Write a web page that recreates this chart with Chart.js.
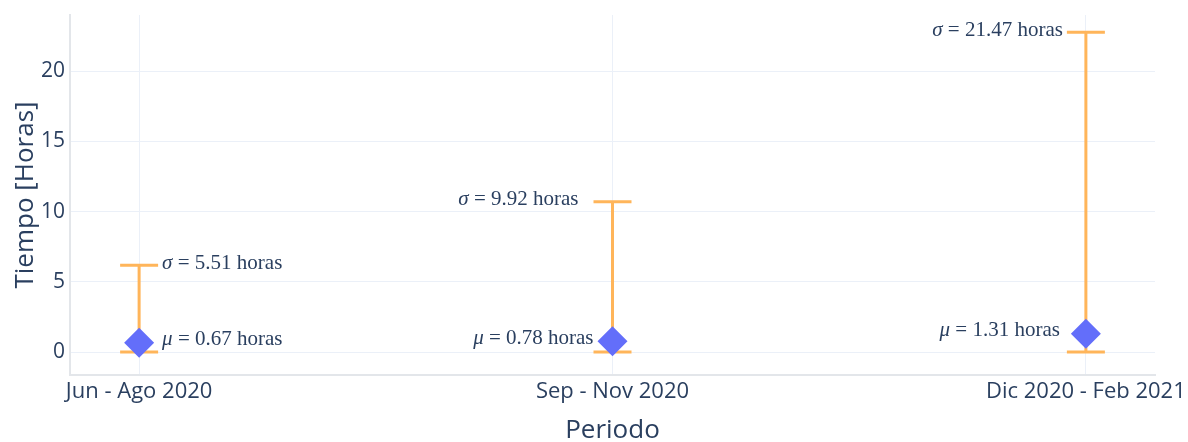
<!DOCTYPE html>
<html>
<head>
<meta charset="utf-8">
<script src="https://cdn.jsdelivr.net/npm/chart.js@4/dist/chart.umd.min.js"></script>
<style>
  html, body { margin: 0; padding: 0; background: #fff; }
  #wrap { width: 1188px; height: 442px; }
</style>
</head>
<body>
<div id="wrap"><canvas id="chartCanvas"></canvas></div>
<script>
// --- Data ---
const periods = ['Jun - Ago 2020', 'Sep - Nov 2020', 'Dic 2020 - Feb 2021'];
const means = [0.67, 0.78, 1.31];
const sigmas = [5.51, 9.92, 21.47];
const lowerBounds = [0, 0, 0];
const yTicks = [0, 5, 10, 15, 20];

// where each annotation sits relative to its bar (px from the bar centre)
// positive = text starts right of bar, negative = text ends left of bar
const sigmaOffsets = [23, -34, -23];
const muOffsets = [23, -19, -26];

const textColor = '#2a3f5f';
const gridColor = '#ebf0f8';
const barColor = '#ffb55a';
const markColor = '#636efa';
const serif = '"Liberation Serif", "DejaVu Serif", serif';
const labelSize = 21;

// Error bars go under the diamonds
const errorBars = {
    id: 'errorBars',
    beforeDatasetsDraw(chart) {
        const { ctx, scales: { x, y } } = chart;
        ctx.save();
        ctx.strokeStyle = barColor;
        ctx.lineWidth = 3;
        means.forEach((m, i) => {
            const px = x.getPixelForValue(i);
            const top = y.getPixelForValue(m + sigmas[i]);
            const bot = y.getPixelForValue(lowerBounds[i]);
            ctx.beginPath();
            ctx.moveTo(px, top); ctx.lineTo(px, bot);
            ctx.moveTo(px - 19, top); ctx.lineTo(px + 19, top);
            ctx.moveTo(px - 19, bot); ctx.lineTo(px + 19, bot);
            ctx.stroke();
        });
        ctx.restore();
    }
};

// "σ = 5.51 horas" style label: italic symbol, upright rest
function drawLabel(ctx, sym, rest, px, py, off) {
    const italic = 'italic ' + labelSize + 'px ' + serif;
    const upright = labelSize + 'px ' + serif;
    ctx.font = italic;
    const w1 = ctx.measureText(sym).width;
    ctx.font = upright;
    const w2 = ctx.measureText(rest).width;
    const start = off > 0 ? px + off : px + off - w1 - w2;
    ctx.font = italic;
    ctx.fillText(sym, start, py);
    ctx.font = upright;
    ctx.fillText(rest, start + w1, py);
}

const valueLabels = {
    id: 'valueLabels',
    afterDatasetsDraw(chart) {
        const { ctx, scales: { x, y } } = chart;
        ctx.save();
        ctx.fillStyle = textColor;
        ctx.textBaseline = 'middle';
        means.forEach((m, i) => {
            const px = x.getPixelForValue(i);
            drawLabel(ctx, '\u03c3', ' = ' + sigmas[i].toFixed(2) + ' horas',
                px, y.getPixelForValue(m + sigmas[i]) - 2, sigmaOffsets[i]);
            drawLabel(ctx, '\u03bc', ' = ' + means[i].toFixed(2) + ' horas',
                px, y.getPixelForValue(m) - 3, muOffsets[i]);
        });
        ctx.restore();
    }
};

const canvas = document.getElementById('chartCanvas');

new Chart(canvas, {
    type: 'scatter',
    data: {
        datasets: [{
            data: means.map((m, i) => ({ x: i, y: m })),
            pointStyle: 'rectRot',
            pointRadius: 15,
            pointHoverRadius: 15,
            backgroundColor: markColor,
            borderColor: markColor,
            borderWidth: 0
        }]
    },
    options: {
        responsive: true,
        maintainAspectRatio: false,
        animation: false,
        layout: { padding: { top: 13, right: 33, left: 0, bottom: 0 } },
        plugins: {
            legend: { display: false },
            tooltip: { enabled: false }
        },
        scales: {
            x: {
                type: 'linear',
                min: -0.146,
                max: 2.146,
                afterBuildTicks: (scale) => { scale.ticks = [0, 1, 2].map(v => ({ value: v })); },
                afterFit: (scale) => {
                    scale.height = 67;
                    scale.paddingLeft = 0;
                    scale.paddingRight = 0;
                },
                ticks: {
                    callback: (v) => periods[v],
                    color: textColor,
                    font: { family: 'Open Sans', size: 22 },
                    padding: 4,
                    maxRotation: 0,
                    autoSkip: false
                },
                grid: { color: gridColor, drawTicks: false },
                border: { color: '#e3e6ea', width: 2 },
                title: {
                    display: true,
                    text: 'Periodo',
                    color: textColor,
                    font: { family: 'Open Sans', size: 26 },
                    padding: { top: 0, bottom: -4 }
                }
            },
            y: {
                min: -1.63,
                max: 24.0,
                afterBuildTicks: (scale) => { scale.ticks = yTicks.map(v => ({ value: v })); },
                afterFit: (scale) => {
                    scale.width = 70;
                    scale.paddingTop = 0;
                    scale.paddingBottom = 0;
                },
                ticks: {
                    color: textColor,
                    font: { family: 'Open Sans', size: 21 },
                    padding: 5
                },
                grid: { color: gridColor, drawTicks: false },
                border: { color: '#e3e6ea', width: 2 },
                title: {
                    display: true,
                    text: 'Tiempo [Horas]',
                    color: textColor,
                    font: { family: 'Open Sans', size: 26 },
                    padding: { top: 10, bottom: 0 }
                }
            }
        }
    },
    plugins: [errorBars, valueLabels]
});
</script>
</body>
</html>
